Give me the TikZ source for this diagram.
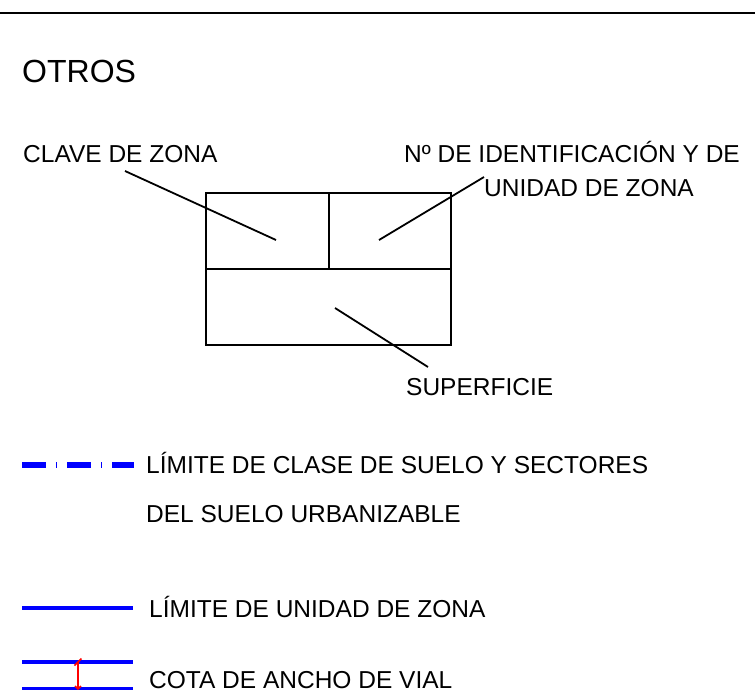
\documentclass[tikz,border=0pt]{standalone}
\usepackage{fontspec}
\setmainfont{Liberation Sans}
\usetikzlibrary{positioning}
\definecolor{legblue}{RGB}{0,0,255}
\definecolor{legred}{RGB}{255,0,0}

\begin{document}
\begin{tikzpicture}[x=1pt,y=-1pt,
  every node/.style={inner sep=0pt,anchor=base west,font=\fontsize{24.5}{28}\selectfont},
  titletext/.style={font=\fontsize{32}{38}\selectfont},
  leader/.style={line width=1.8pt},
  boxline/.style={line width=2pt},
  zoneline/.style={legblue,line width=4pt},
  classline/.style={legblue,line width=6pt,dash pattern=on 24pt off 10pt on 1pt off 10pt}]
  \useasboundingbox (0,0) rectangle (755,690);
  \draw[line width=2.5pt] (0,13) -- (755,13);

  \node[titletext] (otros) at (22,83) {OTROS};

  % cajetin
  \coordinate (bl) at (206,345);
  \coordinate (tr) at (451,193);
  \coordinate (ml) at (206,269);
  \coordinate (mr) at (451,269);
  \coordinate (mt) at (329,193);
  \coordinate (mm) at (329,269);
  \draw[boxline] (bl) rectangle (tr);
  \draw[boxline] (ml) -- (mr);
  \draw[boxline] (mt) -- (mm);

  \node (clave) at (23,162) {CLAVE DE ZONA};
  \node (ident) at (404,162) {Nº DE IDENTIFICACIÓN Y DE};
  \node (unidad) at (484,196) {UNIDAD DE ZONA};
  \node (sup) at (406,395) {SUPERFICIE};

  \coordinate (c1) at (125,171);
  \coordinate (c2) at (276,240);
  \coordinate (n1) at (379,240);
  \coordinate (n2) at (484,177);
  \coordinate (s1) at (335,308);
  \coordinate (s2) at (428,367);
  \draw[leader] (c1) -- (c2);
  \draw[leader] (n1) -- (n2);
  \draw[leader] (s1) -- (s2);

  % leyenda
  \coordinate (a1) at (22,465);
  \coordinate (a2) at (134,465);
  \draw[classline] (a1) -- (a2);
  \node (clase) at (146,473) {LÍMITE DE CLASE DE SUELO Y SECTORES};
  \node (clase2) at (146,522) {DEL SUELO URBANIZABLE};

  \coordinate (b1) at (22,608);
  \coordinate (b2) at (133,608);
  \draw[zoneline] (b1) -- (b2);
  \node (zona) at (149,617) {LÍMITE DE UNIDAD DE ZONA};

  \coordinate (d1) at (22,662);
  \coordinate (d2) at (133,662);
  \coordinate (e1) at (22,689);
  \coordinate (e2) at (133,689);
  \draw[zoneline] (d1) -- (d2);
  \draw[zoneline] (e1) -- (e2);
  \coordinate (r1) at (78,662);
  \coordinate (r2) at (78,689);
  \draw[legred,line width=1.5pt] (r1) -- (r2);
  \draw[legred,line width=1.5pt] (74.5,665.5) -- (81.5,658.5);
  \draw[legred,line width=1.5pt] (75,686) -- (78,689) -- (81,686);
  \node (cota) at (149,688) {COTA DE ANCHO DE VIAL};
\end{tikzpicture}
\end{document}
